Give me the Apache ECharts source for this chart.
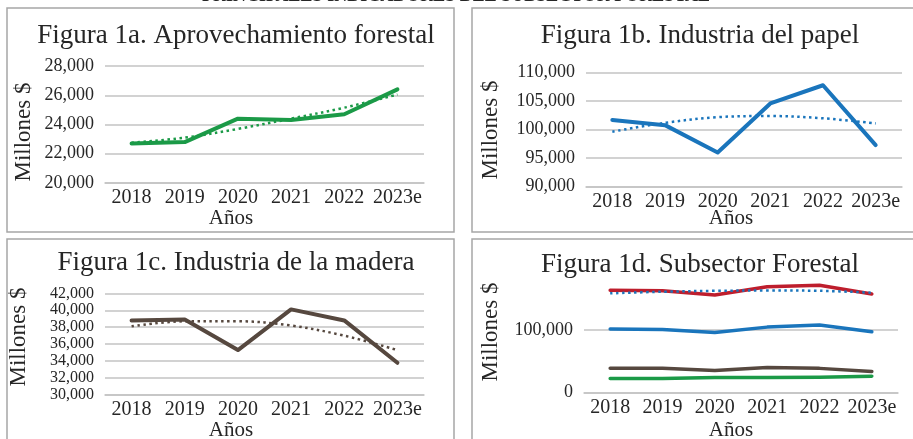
<!DOCTYPE html>
<html>
<head>
<meta charset="utf-8">
<script src="https://cdn.jsdelivr.net/npm/echarts@6/dist/echarts.min.js"></script>
<style>
html,body{margin:0;padding:0;background:#fff;}
#c{width:913px;height:439px;}
</style>
</head>
<body>
<div id="c"></div>
<script>
var years = ['2018', '2019', '2020', '2021', '2022', '2023e'];
var aprovechamiento = [22700, 22800, 24400, 24300, 24700, 26400];
var aprovechamientoTrend = [22750, 23100, 23700, 24400, 25150, 26050];
var papel = [101700, 100800, 96000, 104600, 107800, 97300];
var papelTrend = [99650, 101200, 102200, 102400, 102000, 101100];
var madera = [38800, 38900, 35300, 40100, 38800, 33800];
var maderaTrend = [38100, 38700, 38700, 38200, 37000, 35300];
var totalForestal = [163200, 162500, 155700, 169000, 171300, 157500];
var totalTrend = [158500, 161000, 162500, 163000, 162500, 159500];

var titles = ['Figura 1a. Aprovechamiento forestal', 'Figura 1b. Industria del papel',
              'Figura 1c. Industria de la madera', 'Figura 1d. Subsector Forestal'];
var yLabel = 'Millones $';
var xLabel = 'Años';
var mainTitle = 'PRINCIPALES INDICADORES DEL SUBSECTOR FORESTAL';

var FONT = "'Liberation Serif', 'DejaVu Serif', serif";
var TXT = '#262626';
var GRIDC = '#c3c3c3';
var GREEN = '#1b9a47', BLUE = '#1a75bc', BROWN = '#56483f', RED = '#be1e2d';

var chart = echarts.init(document.getElementById('c'), null, {renderer: 'canvas'});

function xAx(i, fs, margin) {
  return {
    type: 'category', gridIndex: i, data: years, boundaryGap: true,
    axisLine: {show: true, lineStyle: {color: GRIDC, width: 1.5}},
    axisTick: {show: false},
    axisLabel: {interval: 0, fontFamily: FONT, fontSize: fs, color: TXT, margin: margin}
  };
}
function yAx(i, min, max, interval, fs, extra) {
  var o = {
    type: 'value', gridIndex: i, min: min, max: max, interval: interval,
    axisLine: {show: false}, axisTick: {show: false},
    splitLine: {lineStyle: {color: GRIDC, width: 1.5}},
    axisLabel: {fontFamily: FONT, fontSize: fs, color: TXT, margin: 11,
      formatter: function (v) { return v.toLocaleString('en-US'); }}
  };
  if (extra) { for (var k in extra) o[k] = extra[k]; }
  return o;
}
function line(i, data, color, width) {
  return {type: 'line', xAxisIndex: i, yAxisIndex: i, data: data, symbol: 'none',
    lineStyle: {color: color, width: width, cap: 'round', join: 'round'}, z: 3};
}
function trend(i, data, color) {
  return {type: 'line', xAxisIndex: i, yAxisIndex: i, data: data, symbol: 'none', smooth: 0.35,
    lineStyle: {color: color, width: 2.5, type: [2.5, 3.5]}, z: 4};
}
function gtext(text, x, y, fs, rot) {
  return {type: 'text', x: x, y: y, rotation: rot ? Math.PI / 2 : 0, z: 10,
    style: {text: text, fontFamily: FONT, fontSize: fs, fill: TXT, textAlign: 'center', textVerticalAlign: 'middle'}};
}
function box(x, y, w, h) {
  return {type: 'rect', shape: {x: x, y: y, width: w, height: h}, z: 1,
    style: {fill: 'none', stroke: '#a6a6a6', lineWidth: 1.5}};
}
var TS = {fontFamily: FONT, fontSize: 27, fontWeight: 'normal', color: TXT};

var option = {
  backgroundColor: '#fff',
  animation: false,
  title: [
    {text: titles[0], left: 231, top: 17, textAlign: 'center', textStyle: TS},
    {text: titles[1], left: 695, top: 17, textAlign: 'center', textStyle: TS},
    {text: titles[2], left: 231, top: 244, textAlign: 'center', textStyle: TS},
    {text: titles[3], left: 695, top: 246, textAlign: 'center', textStyle: TS}
  ],
  grid: [
    {left: 105, top: 66, width: 319, height: 117},
    {left: 586, top: 72.7, width: 316, height: 114},
    {left: 105, top: 293.3, width: 319, height: 101.7},
    {left: 584, top: 267.3, width: 314, height: 125.4}
  ],
  xAxis: [xAx(0, 20, 5), xAx(1, 20, 5), xAx(2, 20, 5), xAx(3, 20, 5)],
  yAxis: [
    yAx(0, 20000, 28000, 2000, 18),
    yAx(1, 90000, 110000, 5000, 18),
    yAx(2, 30000, 42000, 2000, 16),
    yAx(3, 0, 200000, 100000, 18, {
      splitLine: {lineStyle: {color: [GRIDC, GRIDC, 'rgba(0,0,0,0)'], width: 1.5}},
      axisLabel: {fontFamily: FONT, fontSize: 18, color: TXT, margin: 11,
        formatter: function (v) { return v >= 200000 ? '' : v.toLocaleString('en-US'); }}
    })
  ],
  series: [
    line(0, aprovechamiento, GREEN, 4), trend(0, aprovechamientoTrend, GREEN),
    line(1, papel, BLUE, 4), trend(1, papelTrend, BLUE),
    line(2, madera, BROWN, 4), trend(2, maderaTrend, BROWN),
    line(3, totalForestal, RED, 3.5), line(3, papel, BLUE, 3.5),
    line(3, madera, BROWN, 3.5), line(3, aprovechamiento, GREEN, 3.5),
    trend(3, totalTrend, BLUE)
  ],
  graphic: [
    box(7, 8, 447, 224), box(472, 8, 450, 224),
    box(7, 239, 447, 210), box(472, 239, 450, 210),
    {type: 'text', x: 456, y: 5, z: 10,
      style: {text: mainTitle, fontFamily: FONT, fontSize: 18, fontWeight: 'bold', fill: TXT,
        textAlign: 'center', textVerticalAlign: 'bottom'}},
    gtext(yLabel, 24, 132, 23, true),
    gtext(yLabel, 491, 130, 23, true),
    gtext(yLabel, 19, 337, 23, true),
    gtext(yLabel, 491, 332, 23, true),
    gtext(xLabel, 231, 218, 21),
    gtext(xLabel, 731, 218, 21),
    gtext(xLabel, 231, 430, 21),
    gtext(xLabel, 731, 430, 21)
  ]
};
chart.setOption(option);
</script>
</body>
</html>
